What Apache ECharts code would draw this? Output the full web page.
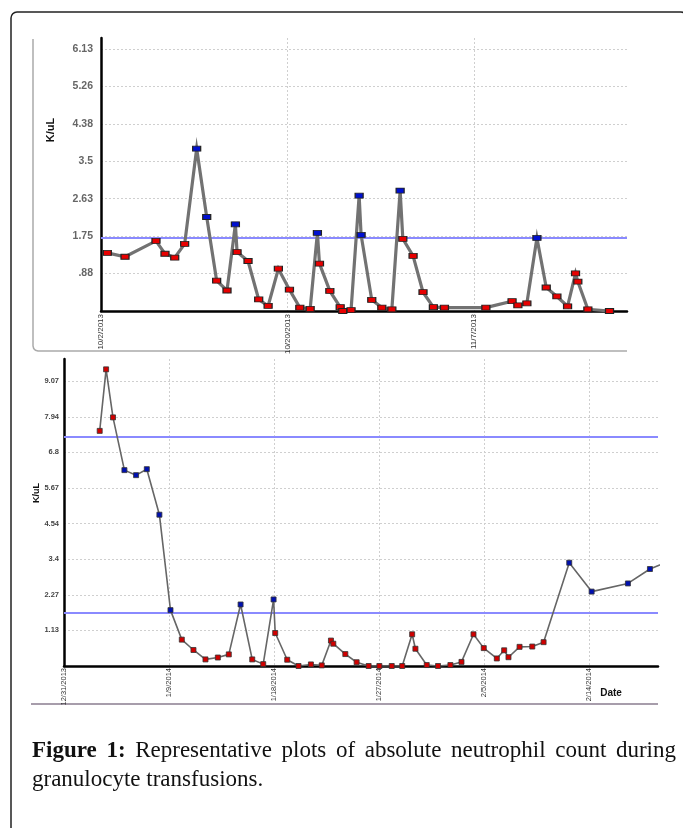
<!DOCTYPE html>
<html>
<head>
<meta charset="utf-8">
<script src="https://cdn.jsdelivr.net/npm/echarts@6/dist/echarts.min.js"></script>
<style>
html,body{margin:0;padding:0;background:#fff;}
#wrap{position:relative;width:683px;height:828px;overflow:hidden;}
#chart{position:absolute;left:0;top:0;width:683px;height:828px;}
.cap{position:absolute;left:32px;width:644px;font-family:"Liberation Serif","DejaVu Serif",serif;font-size:23px;line-height:28px;color:#111;white-space:nowrap;}
#cap1{top:736px;text-align:justify;text-align-last:justify;white-space:normal;}
#cap2{top:765px;}
b{font-weight:bold;}
</style>
</head>
<body>
<div id="wrap">
<div id="chart"></div>
<div class="cap" id="cap1"><b>Figure 1:</b> Representative plots of absolute neutrophil count during</div>
<div class="cap" id="cap2">granulocyte transfusions.</div>
</div>
<script>
// ---------- Top panel (days since 10/2/2013) ----------
const topDays = [0.61,2.32,5.31,6.18,7.12,8.08,9.24,10.21,11.17,12.17,12.98,13.14,14.2,15.23,16.14,17.13,18.2,19.2,20.2,20.9,21.1,22.1,23.1,23.35,24.15,24.93,25.12,26.15,27.12,28.09,28.89,29.15,30.14,31.1,32.1,33.17,37.17,39.7,40.26,41.13,42.1,43.0,44.03,45.06,45.83,46.05,47.02,49.11];
const topValues = [1.36,1.27,1.64,1.34,1.25,1.57,3.80,2.20,0.71,0.48,2.03,1.38,1.17,0.27,0.12,0.99,0.50,0.08,0.05,1.83,1.11,0.47,0.09,0.0,0.02,2.70,1.78,0.26,0.08,0.04,2.82,1.69,1.29,0.44,0.09,0.08,0.08,0.23,0.13,0.18,1.71,0.55,0.34,0.11,0.88,0.69,0.04,0.0];
const topFlags = ['r','r','r','r','r','r','b','b','r','r','b','r','r','r','r','r','r','r','r','b','r','r','r','r','r','b','b','r','r','r','b','r','r','r','r','r','r','r','r','r','b','r','r','r','r','r','r','r'];
const topDateLabels = ['10/2/2013','10/20/2013','11/7/2013'];
const topYLabels = ['','.88','1.75','2.63','3.5','4.38','5.26','6.13'];
const topThresholds = [1.72];

// ---------- Bottom panel (days since 12/31/2013) ----------
const botDays = [3.06,3.61,4.2,5.18,6.18,7.1,8.18,9.13,10.1,11.1,12.13,13.19,14.13,15.14,16.14,17.08,17.97,18.11,19.14,20.11,21.17,22.1,22.89,23.09,24.12,25.09,26.12,27.04,28.1,29.0,29.85,30.13,31.1,32.07,33.13,34.08,35.11,35.99,37.11,37.74,38.11,39.06,40.15,41.12,43.32,45.24,48.35,50.24,51.6];
const botValues = [7.49,9.45,7.92,6.24,6.08,6.27,4.82,1.78,0.84,0.51,0.21,0.27,0.37,1.96,0.21,0.06,2.12,1.05,0.20,0.0,0.05,0.02,0.81,0.71,0.38,0.12,0.0,0.0,0.0,0.0,1.01,0.55,0.03,0.0,0.03,0.13,1.01,0.57,0.24,0.50,0.28,0.61,0.62,0.76,3.29,2.37,2.63,3.09,3.3];
const botFlags = ['r','r','r','b','b','b','b','b','r','r','r','r','r','b','r','r','b','r','r','r','r','r','r','r','r','r','r','r','r','r','r','r','r','r','r','r','r','r','r','r','r','r','r','r','b','b','b','b','b'];
const botDateLabels = ['12/31/2013','1/9/2014','1/18/2014','1/27/2014','2/5/2014','2/14/2014'];
const botYLabels = ['','1.13','2.27','3.4','4.54','5.67','6.8','7.94','9.07'];
const botThresholds = [7.30, 1.70];

const TOP_X_INT = 18, TOP_Y_INT = 0.876, BOT_X_INT = 9, BOT_Y_INT = 1.134;

function pts(days, vals, flags, red, blue) {
  return days.map((d, i) => ({
    value: [d, vals[i]],
    itemStyle: { color: flags[i] === 'b' ? blue : red }
  }));
}
function idxFmt(labels, step) {
  return v => { const k = Math.round(v / step); return labels[k] !== undefined ? labels[k] : ''; };
}

const grid = { color: '#cfcfcf', width: 1, type: [2, 2] };

const chart = echarts.init(document.getElementById('chart'), null, { renderer: 'canvas' });
chart.setOption({
  animation: false,
  backgroundColor: 'transparent',
  grid: [
    { left: 101, top: 38, right: 56, height: 273 },
    { left: 64, top: 359, right: 25, height: 307 }
  ],
  xAxis: [
    {
      gridIndex: 0, type: 'value', min: 0, max: 50.8, interval: TOP_X_INT,
      axisLine: { lineStyle: { color: '#000', width: 2.5 } },
      axisTick: { show: false },
      splitLine: { show: true, lineStyle: grid, showMaxLine: false },
      axisLabel: { rotate: 90, margin: 3, fontSize: 8, color: '#333', fontFamily: 'Liberation Sans',
        showMaxLabel: false, formatter: idxFmt(topDateLabels, TOP_X_INT) }
    },
    {
      gridIndex: 1, type: 'value', min: 0, max: 50.93, interval: BOT_X_INT,
      axisLine: { lineStyle: { color: '#000', width: 2.5 } },
      axisTick: { show: false },
      splitLine: { show: true, lineStyle: grid, showMaxLine: false },
      axisLabel: { rotate: 90, margin: 2, fontSize: 7.5, color: '#333', fontFamily: 'Liberation Sans',
        showMaxLabel: false, formatter: idxFmt(botDateLabels, BOT_X_INT) }
    }
  ],
  yAxis: [
    {
      gridIndex: 0, type: 'value', min: 0, max: 6.39, interval: TOP_Y_INT,
      axisLine: { show: true, lineStyle: { color: '#000', width: 2.5 } },
      axisTick: { show: false },
      splitLine: { show: true, lineStyle: grid, showMaxLine: false, showMinLine: false },
      axisLabel: { margin: 8, fontSize: 10.5, fontWeight: 'bold', color: '#666', fontFamily: 'Liberation Sans',
        showMaxLabel: false, formatter: idxFmt(topYLabels, TOP_Y_INT) }
    },
    {
      gridIndex: 1, type: 'value', min: 0, max: 9.78, interval: BOT_Y_INT,
      axisLine: { show: true, lineStyle: { color: '#000', width: 2.5 } },
      axisTick: { show: false },
      splitLine: { show: true, lineStyle: grid, showMaxLine: false, showMinLine: false },
      axisLabel: { margin: 5, fontSize: 7.5, fontWeight: 'bold', color: '#444', fontFamily: 'Liberation Sans',
        showMaxLabel: false, formatter: idxFmt(botYLabels, BOT_Y_INT) }
    }
  ],
  series: [
    {
      type: 'line', xAxisIndex: 0, yAxisIndex: 0,
      data: pts(topDays, topValues, topFlags, '#e80000', '#0010d0'),
      symbol: 'rect', symbolSize: [8, 5],
      itemStyle: { borderColor: '#222', borderWidth: 1 },
      lineStyle: { color: '#727272', width: 3.2, join: 'miter', miterLimit: 10 },
      markLine: {
        silent: true, symbol: 'none', label: { show: false }, z: 1,
        lineStyle: { color: '#8a8aff', width: 2, type: 'solid' },
        data: topThresholds.map(v => ({ yAxis: v }))
      },
      z: 3
    },
    {
      type: 'line', xAxisIndex: 1, yAxisIndex: 1,
      data: pts(botDays, botValues, botFlags, '#d00000', '#0010b0'),
      symbol: 'rect', symbolSize: [5, 5],
      itemStyle: { borderColor: '#333', borderWidth: 0.8 },
      lineStyle: { color: '#666', width: 1.6 },
      clip: true,
      markLine: {
        silent: true, symbol: 'none', label: { show: false }, z: 1,
        lineStyle: { color: '#8a8aff', width: 2, type: 'solid' },
        data: botThresholds.map(v => ({ yAxis: v }))
      },
      z: 3
    }
  ],
  graphic: [
    { type: 'rect', shape: { x: 11, y: 12, width: 676, height: 840, r: 6 },
      style: { fill: 'none', stroke: '#222', lineWidth: 1.5 }, silent: true },
    { type: 'polyline', shape: { points: [[33, 39], [33, 346], [33.7, 348.5], [35.5, 350.3], [38, 351], [627, 351]] },
      style: { fill: 'none', stroke: '#aaa', lineWidth: 1.5 }, silent: true },
    { type: 'line', shape: { x1: 31, y1: 704, x2: 658, y2: 704 },
      style: { stroke: '#8a7d8f', lineWidth: 1.5 }, silent: true },
    { type: 'text', x: 51, y: 130, rotation: Math.PI / 2,
      style: { text: 'K/uL', font: 'bold 11px "Liberation Sans"', fill: '#111', align: 'center', verticalAlign: 'middle' } },
    { type: 'text', x: 37, y: 493, rotation: Math.PI / 2,
      style: { text: 'K/uL', font: 'bold 9px "Liberation Sans"', fill: '#111', align: 'center', verticalAlign: 'middle' } },
    { type: 'text', x: 611, y: 693,
      style: { text: 'Date', font: 'bold 10px "Liberation Sans"', fill: '#111', align: 'center', verticalAlign: 'middle' } }
  ]
});
</script>
</body>
</html>
